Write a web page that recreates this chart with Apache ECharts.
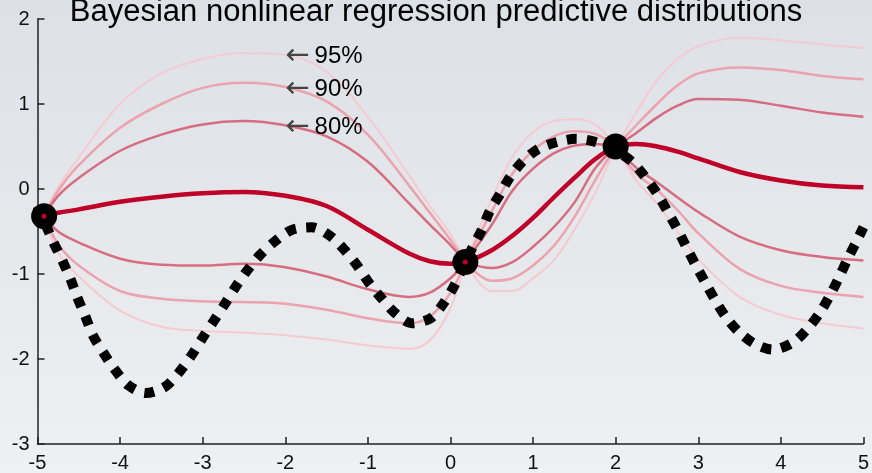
<!DOCTYPE html>
<html>
<head>
<meta charset="utf-8">
<script src="https://cdn.jsdelivr.net/npm/echarts@6/dist/echarts.min.js"></script>
<style>
  html, body { margin: 0; padding: 0; }
  #chart { width: 872px; height: 473px; }
</style>
</head>
<body>
<div id="chart"></div>
<script>
// Posterior predictive quantiles of a Bayesian nonlinear regression, three observations.
const chartTitle = 'Bayesian nonlinear regression predictive distributions';

// Shared x positions for the mean and the quantile curves
const curveX = [-4.92, -4.75, -4.5, -4, -3.5, -3, -2.5, -2, -1.5, -1, -0.5, -0.25, 0, 0.18,
  0.5, 0.75, 1, 1.25, 1.5, 1.75, 2, 2.25, 2.5, 2.75, 3, 3.5, 4, 4.5, 5];

const meanY = [-0.32, -0.28, -0.24, -0.15, -0.09, -0.05, -0.035, -0.08, -0.2, -0.48, -0.76, -0.85, -0.88, -0.86,
  -0.72, -0.55, -0.34, -0.1, 0.13, 0.35, 0.5, 0.53, 0.5, 0.44, 0.36, 0.2, 0.1, 0.04, 0.02];

const upper80 = [-0.32, -0.08, 0.13, 0.45, 0.64, 0.76, 0.8, 0.75, 0.62, 0.32, -0.17, -0.42, -0.66, -0.86,
  -0.42, -0.02, 0.24, 0.42, 0.51, 0.53, 0.5, 0.66, 0.84, 0.98, 1.06, 1.05, 0.98, 0.9, 0.85];
const lower80 = [-0.32, -0.5, -0.63, -0.82, -0.89, -0.9, -0.88, -0.92, -1.03, -1.18, -1.27, -1.22, -1.05, -0.86,
  -0.93, -0.86, -0.68, -0.45, -0.16, 0.24, 0.5, 0.25, 0.08, -0.1, -0.27, -0.56, -0.72, -0.8, -0.84];

const upper90 = [-0.32, -0.02, 0.28, 0.72, 1.0, 1.19, 1.25, 1.2, 1.03, 0.64, 0.04, -0.28, -0.6, -0.86,
  -0.26, 0.18, 0.45, 0.62, 0.68, 0.65, 0.5, 0.75, 1.0, 1.22, 1.36, 1.43, 1.4, 1.33, 1.29];
const lower90 = [-0.32, -0.65, -0.9, -1.2, -1.29, -1.32, -1.33, -1.35, -1.42, -1.52, -1.58, -1.5, -1.22, -0.86,
  -1.08, -1.05, -0.9, -0.67, -0.33, 0.1, 0.5, 0.18, -0.01, -0.25, -0.52, -0.94, -1.14, -1.22, -1.27];

const upper95 = [-0.32, 0.02, 0.37, 1.0, 1.36, 1.53, 1.6, 1.58, 1.38, 0.85, 0.16, -0.2, -0.53, -0.86,
  -0.12, 0.38, 0.67, 0.8, 0.82, 0.76, 0.5, 0.9, 1.28, 1.53, 1.68, 1.78, 1.75, 1.7, 1.66];
const lower95 = [-0.32, -0.75, -1.03, -1.43, -1.62, -1.67, -1.69, -1.72, -1.77, -1.84, -1.88, -1.78, -1.4, -0.86,
  -1.2, -1.2, -1.05, -0.84, -0.48, -0.05, 0.5, 0.1, -0.17, -0.5, -0.82, -1.27, -1.48, -1.58, -1.64];

// True underlying function (dotted)
const truthX = [-5, -4.81, -4.7, -4.6, -4.52, -4.42, -4.33, -4.2, -4.06, -3.9, -3.69, -3.46, -3.28, -3.13,
  -3.0, -2.87, -2.73, -2.6, -2.47, -2.31, -2.13, -1.92, -1.68, -1.46, -1.28, -1.13, -0.99, -0.83, -0.67,
  -0.47, -0.24, -0.08, 0.05, 0.16, 0.27, 0.38, 0.47, 0.6, 0.72, 0.87, 1.06, 1.28, 1.52, 1.77, 2.0, 2.2,
  2.35, 2.5, 2.62, 2.74, 2.85, 2.96, 3.08, 3.2, 3.33, 3.49, 3.68, 3.9, 4.14, 4.31, 4.47, 4.59, 4.7, 4.81,
  4.92, 5];
const truthY = [-0.2, -0.62, -0.84, -1.06, -1.27, -1.5, -1.72, -1.93, -2.13, -2.31, -2.4, -2.33, -2.15, -1.95,
  -1.75, -1.56, -1.35, -1.15, -0.97, -0.78, -0.62, -0.48, -0.45, -0.55, -0.72, -0.9, -1.1, -1.29, -1.46,
  -1.58, -1.52, -1.34, -1.13, -0.9, -0.68, -0.48, -0.27, -0.06, 0.14, 0.32, 0.47, 0.55, 0.59, 0.55, 0.45, 0.32,
  0.15, -0.05, -0.25, -0.46, -0.67, -0.88, -1.09, -1.3, -1.5, -1.68, -1.82, -1.89, -1.81, -1.66, -1.46,
  -1.26, -1.05, -0.82, -0.61, -0.45];

// Observed data
const obsX = [-4.92, 0.18, 2.0];
const obsY = [-0.32, -0.86, 0.5];

// Annotations for the upper quantile curves
const levelNames = ['95%', '90%', '80%'];
const levelCurves = [upper95, upper90, upper80];
const annotX = -2;

const pairs = (xs, ys) => xs.map((x, i) => [x, ys[i]]);

// Quantile curves pinch at each observation: restart the smoothed path there
// so the curve can change direction at the data point.
function pinched(xs, ys) {
  const out = [];
  xs.forEach((x, i) => {
    out.push([x, ys[i]]);
    if (i > 0 && i < xs.length - 1 && obsX.includes(x)) {
      out.push([x, '-']);
      out.push([x, ys[i]]);
    }
  });
  return out;
}

const FONT = '"Liberation Sans", Arial, Helvetica, sans-serif';
const c95 = '#f5cbd2';
const c90 = '#eba3ae';
const c80 = '#d66d80';
const cMean = '#bf0029';

function band(name, ys, color, width) {
  return {
    name, type: 'line', data: pinched(curveX, ys), smooth: 0.35, symbol: 'none',
    connectNulls: false, lineStyle: { color, width }, z: 2, silent: true
  };
}

const annotData = levelNames.map((n, i) => {
  const idx = curveX.indexOf(annotX);
  return { value: [annotX, levelCurves[i][idx]], name: n };
});

const chart = echarts.init(document.getElementById('chart'), null, { renderer: 'canvas' });
chart.setOption({
  animation: false,
  backgroundColor: new echarts.graphic.LinearGradient(0, 0, 0, 1, [
    { offset: 0, color: '#dde0e5' },
    { offset: 1, color: '#eef0f2' }
  ]),
  title: {
    text: chartTitle, left: 'center', top: -8,
    textStyle: { fontFamily: FONT, fontSize: 31, fontWeight: 'normal', color: '#000' }
  },
  grid: { left: 37.5, right: 8, top: 19, bottom: 29 },
  xAxis: {
    type: 'value', min: -5, max: 5, interval: 1,
    axisLine: { onZero: false, lineStyle: { color: '#222', width: 1.5 } },
    axisTick: { inside: true, length: 7, lineStyle: { color: '#222', width: 1.5 } },
    axisLabel: { fontFamily: FONT, fontSize: 20, color: '#111', margin: 9 },
    splitLine: { show: false }
  },
  yAxis: {
    type: 'value', min: -3, max: 2, interval: 1,
    axisLine: { show: true, onZero: false, lineStyle: { color: '#222', width: 1.5 } },
    axisTick: { show: true, inside: true, length: 7, lineStyle: { color: '#222', width: 1.5 } },
    axisLabel: { fontFamily: FONT, fontSize: 20, color: '#111', margin: 8 },
    splitLine: { show: false }
  },
  series: [
    band('95% upper', upper95, c95, 2),
    band('95% lower', lower95, c95, 2),
    band('90% upper', upper90, c90, 2.5),
    band('90% lower', lower90, c90, 2.5),
    band('80% upper', upper80, c80, 2.5),
    band('80% lower', lower80, c80, 2.5),
    {
      name: 'mean', type: 'line', data: pairs(curveX, meanY), smooth: 0.35, symbol: 'none',
      lineStyle: { color: cMean, width: 4.5 }, z: 3, silent: true
    },
    {
      name: 'truth', type: 'line', data: pairs(truthX, truthY), smooth: 0.3, symbol: 'none',
      lineStyle: { color: '#000', width: 10, type: [10, 10], cap: 'butt' }, z: 4, silent: true
    },
    {
      name: 'observations', type: 'scatter', data: pairs(obsX, obsY), symbol: 'circle', symbolSize: 26,
      itemStyle: { color: '#000', opacity: 1 }, z: 5, silent: true
    },
    {
      name: 'observation centres', type: 'scatter', data: pairs(obsX.slice(0, 2), obsY.slice(0, 2)),
      symbol: 'circle', symbolSize: 5, itemStyle: { color: cMean, opacity: 1 }, z: 6, silent: true
    },
    {
      name: 'levels', type: 'scatter', data: annotData, symbolSize: 0, z: 6, silent: true,
      itemStyle: { opacity: 1 },
      label: {
        show: true, position: 'right', distance: 0, offset: [0, 2],
        formatter: p => '{a|←}{t|' + p.name + '}',
        rich: {
          a: { fontFamily: '"DejaVu Sans", sans-serif', fontSize: 29, color: '#444', padding: [0, 5, 0, 0] },
          t: { fontFamily: FONT, fontSize: 24, color: '#000' }
        }
      }
    }
  ]
});
</script>
</body>
</html>
